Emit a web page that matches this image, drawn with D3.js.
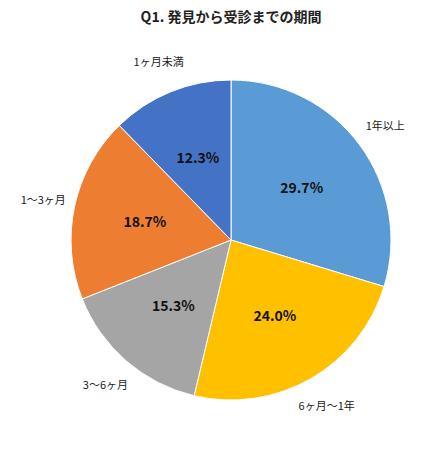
<!DOCTYPE html>
<html><head><meta charset="utf-8">
<script src="https://cdn.jsdelivr.net/npm/d3@7"></script>
<style>body{margin:0;background:#fff}text{font-family:"Noto Sans CJK JP",sans-serif}</style>
</head><body><svg id="c" width="439" height="450"></svg>
<script>
const categories = ["1年以上", "6ヶ月〜1年", "3〜6ヶ月", "1〜3ヶ月", "1ヶ月未満"];
const values = [29.7, 24.0, 15.3, 18.7, 12.3];
const colors = ["#5B9BD5", "#FFC000", "#A5A5A5", "#ED7D31", "#4472C4"];
const title = "Q1. 発見から受診までの期間";

const svg = d3.select("#c");
const cx = 231, cy = 240, r = 160;
svg.append("text").attr("x", 231).attr("y", 22).attr("text-anchor", "middle")
    .attr("font-size", 14).attr("font-weight", "bold").attr("fill", "#222").text(title);

const pie = d3.pie().sort(null).value(d => d)(values);
const arc = d3.arc().innerRadius(0).outerRadius(r);
const inner = d3.arc().innerRadius(r * 0.55).outerRadius(r * 0.55);
const outer = d3.arc().innerRadius(r * 1.2).outerRadius(r * 1.2);
const g = svg.append("g").attr("transform", `translate(${cx},${cy})`);

g.selectAll("path").data(pie).join("path")
    .attr("d", arc).attr("fill", (d, i) => colors[i])
    .attr("stroke", "#fff").attr("stroke-width", 1);

g.selectAll("text.v").data(pie).join("text").attr("class", "v")
    .attr("transform", d => `translate(${inner.centroid(d)})`)
    .attr("text-anchor", "middle").attr("dy", "0.35em")
    .attr("font-size", 14).attr("font-weight", "bold").attr("fill", "#111")
    .text(d => d.data.toFixed(1) + "%");

g.selectAll("text.l").data(pie).join("text").attr("class", "l")
    .attr("transform", d => `translate(${outer.centroid(d)})`)
    .attr("text-anchor", "middle").attr("dy", "0.35em")
    .attr("font-size", 11).attr("fill", "#222")
    .text((d, i) => categories[i]);
</script></body></html>
